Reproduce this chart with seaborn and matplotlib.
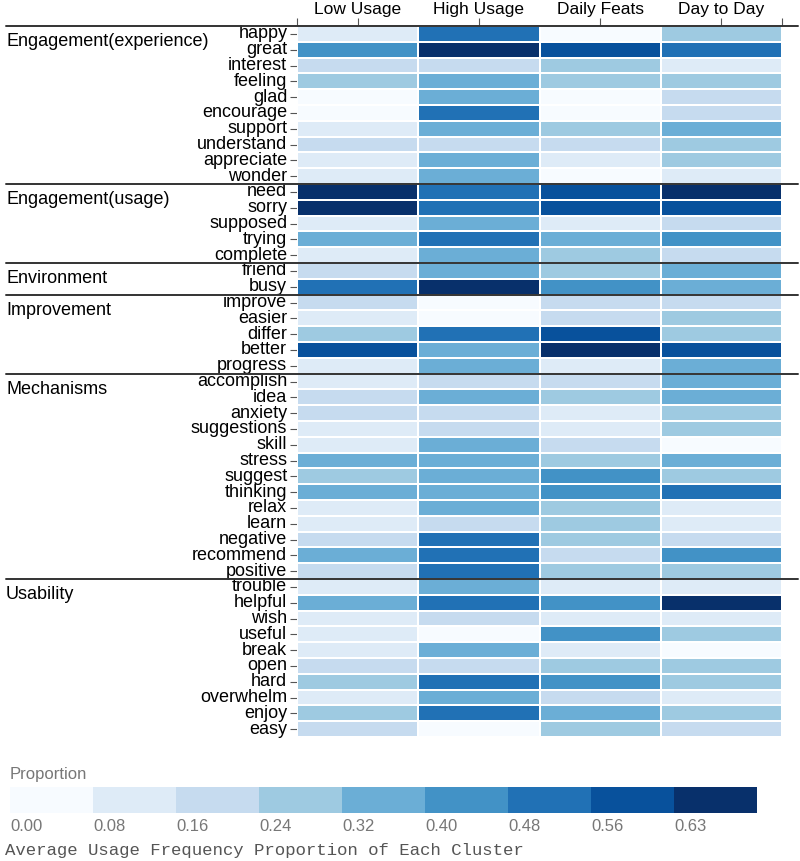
import numpy as np
import pandas as pd
import matplotlib
matplotlib.use("Agg")
import matplotlib.pyplot as plt
from matplotlib.colors import ListedColormap
import seaborn as sns

# Columns (clusters)
clusters = ["Low Usage", "High Usage", "Daily Feats", "Day to Day"]

# Group names and their words, top to bottom
groups = ["Engagement(experience)", "Engagement(usage)", "Environment",
          "Improvement", "Mechanisms", "Usability"]
words_experience = ["happy", "great", "interest", "feeling", "glad", "encourage",
                    "support", "understand", "appreciate", "wonder"]
words_usage = ["need", "sorry", "supposed", "trying", "complete"]
words_environment = ["friend", "busy"]
words_improvement = ["improve", "easier", "differ", "better", "progress"]
words_mechanisms = ["accomplish", "idea", "anxiety", "suggestions", "skill", "stress",
                    "suggest", "thinking", "relax", "learn", "negative", "recommend",
                    "positive"]
words_usability = ["trouble", "helpful", "wish", "useful", "break", "open", "hard",
                   "overwhelm", "enjoy", "easy"]

# Average usage frequency proportion (estimated from the colour bins)
low_usage = [0.12, 0.44, 0.20, 0.28, 0.03, 0.03, 0.12, 0.20, 0.12, 0.12,
             0.67, 0.67, 0.12, 0.36, 0.12,
             0.20, 0.52,
             0.20, 0.12, 0.28, 0.60, 0.12,
             0.12, 0.20, 0.20, 0.12, 0.12, 0.36, 0.28, 0.36, 0.12, 0.12, 0.20, 0.36, 0.20,
             0.12, 0.36, 0.12, 0.12, 0.12, 0.20, 0.28, 0.12, 0.28, 0.20]
high_usage = [0.52, 0.67, 0.20, 0.36, 0.36, 0.52, 0.36, 0.20, 0.36, 0.36,
              0.52, 0.52, 0.36, 0.52, 0.36,
              0.36, 0.67,
              0.03, 0.03, 0.52, 0.36, 0.36,
              0.20, 0.36, 0.20, 0.20, 0.36, 0.36, 0.36, 0.36, 0.36, 0.20, 0.52, 0.52, 0.52,
              0.36, 0.52, 0.20, 0.03, 0.36, 0.20, 0.52, 0.36, 0.52, 0.03]
daily_feats = [0.03, 0.60, 0.28, 0.28, 0.03, 0.03, 0.28, 0.20, 0.12, 0.03,
               0.60, 0.60, 0.12, 0.36, 0.28,
               0.28, 0.44,
               0.20, 0.20, 0.60, 0.67, 0.12,
               0.20, 0.28, 0.12, 0.12, 0.20, 0.28, 0.44, 0.44, 0.28, 0.28, 0.28, 0.20, 0.28,
               0.12, 0.44, 0.12, 0.44, 0.12, 0.28, 0.44, 0.20, 0.36, 0.28]
day_to_day = [0.28, 0.52, 0.12, 0.28, 0.20, 0.20, 0.36, 0.28, 0.28, 0.12,
              0.67, 0.60, 0.20, 0.44, 0.20,
              0.36, 0.36,
              0.20, 0.28, 0.28, 0.60, 0.36,
              0.36, 0.36, 0.28, 0.28, 0.03, 0.36, 0.28, 0.52, 0.12, 0.12, 0.20, 0.44, 0.28,
              0.12, 0.67, 0.12, 0.28, 0.03, 0.28, 0.28, 0.12, 0.28, 0.20]

legend_ticks = [0.00, 0.079, 0.158, 0.237, 0.316, 0.395, 0.474, 0.553, 0.632]
legend_labels = ["0.00", "0.08", "0.16", "0.24", "0.32", "0.40", "0.48", "0.56", "0.63"]

group_words = [words_experience, words_usage, words_environment,
               words_improvement, words_mechanisms, words_usability]
words = [w for g in group_words for w in g]
df = pd.DataFrame({clusters[0]: low_usage, clusters[1]: high_usage,
                   clusters[2]: daily_feats, clusters[3]: day_to_day}, index=words)

sns.set_style("white")
plt.rcParams["font.family"] = ["Liberation Sans", "DejaVu Sans"]
plt.rcParams["text.color"] = "black"
plt.rcParams["xtick.labelcolor"] = "black"
plt.rcParams["ytick.labelcolor"] = "black"

W, H = 800, 861
fig = plt.figure(figsize=(8, 8.61), dpi=100)
left, right, top, bottom = 297, 782, 26, 737
ax = fig.add_axes([left / W, 1 - bottom / H, (right - left) / W, (bottom - top) / H])
cax = fig.add_axes([10 / W, 1 - 813 / H, 747 / W, 26 / H])

# Blues, 9 classes
cmap = ListedColormap(["#f7fbff", "#deebf7", "#c6dbef", "#9ecae1", "#6baed6",
                       "#4292c6", "#2171b5", "#08519c", "#08306b"])
sns.heatmap(df, ax=ax, cmap=cmap, vmin=0, vmax=0.711, linewidths=1.2, linecolor="white",
            cbar=True, cbar_ax=cax, cbar_kws={"orientation": "horizontal"})

# top x axis
ax.xaxis.tick_top()
ax.set_xticks(np.arange(len(clusters)) + 0.5)
ax.set_xticklabels(clusters, fontsize=12.5)
ax.set_xticks([0, len(clusters)], minor=True)
ax.tick_params(axis="x", which="both", top=True, bottom=False, length=6, width=0.8,
               color="#555555", pad=0.5, labelcolor="black")
ax.tick_params(axis="y", left=True, length=5, width=0.8, color="#555555", pad=2,
               labelsize=13, rotation=0, labelcolor="black")
ax.set_xlabel("")
ax.set_ylabel("")

# group separators and labels
starts = np.cumsum([0] + [len(g) for g in group_words[:-1]])
yt = ax.get_yaxis_transform()
x0 = (6 - left) / (right - left)
x1 = (798 - left) / (right - left)
for name, s in zip(groups, starts):
    ax.plot([x0, x1], [s, s], transform=yt, clip_on=False, color="#333333", lw=1.4)
    ax.text(x0, s + 1.0, name, transform=yt, ha="left", va="center", fontsize=13,
            color="black")

# colour legend
cb = ax.collections[0].colorbar
cb.outline.set_visible(False)
cb.set_ticks(legend_ticks)
cb.set_ticklabels(legend_labels)
cax.tick_params(length=0, labelsize=12, labelcolor="#777777", pad=4)
for t in cax.get_xticklabels():
    t.set_ha("left")
fig.text(10 / W, 1 - 775 / H, "Proportion", fontsize=12, color="#777777",
         ha="left", va="center")
fig.text(5 / W, 1 - 850 / H, "Average Usage Frequency Proportion of Each Cluster",
         fontsize=12.5, color="#555555", ha="left", va="center",
         family=["Liberation Mono", "DejaVu Sans Mono"])

fig.savefig("out.png", dpi=100)
